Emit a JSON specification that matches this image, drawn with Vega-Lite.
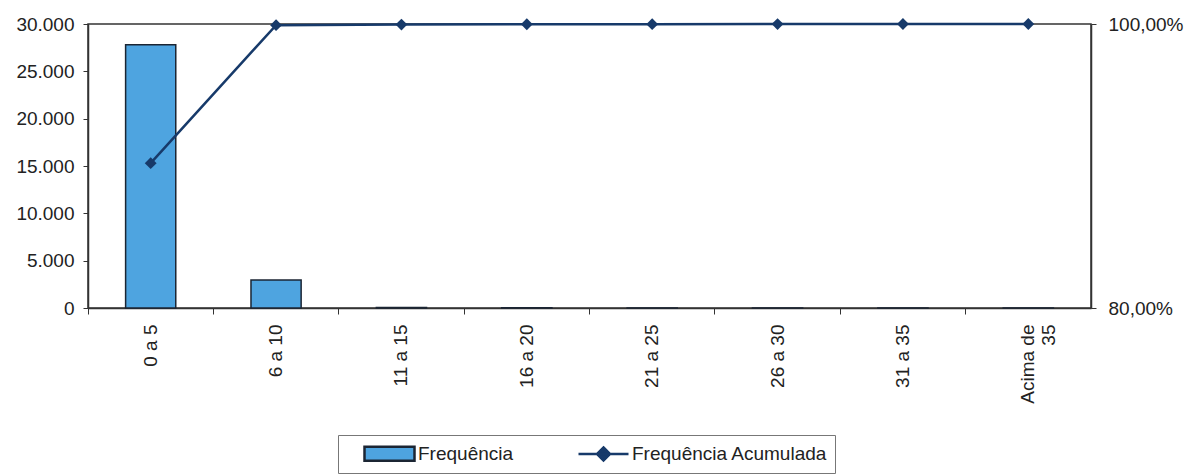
{
  "$schema": "https://vega.github.io/schema/vega-lite/v6.json",
  "autosize": "none",
  "width": 1003,
  "height": 284,
  "padding": {"left": 88, "top": 24, "right": 97, "bottom": 167},
  "background": "white",
  "config": {
    "locale": {"number": {"decimal": ",", "thousands": ".", "grouping": [3], "currency": ["R$", ""]}},
    "font": "Liberation Sans",
    "view": {"stroke": "#333", "strokeWidth": 1.5},
    "axis": {"grid": false, "domainColor": "#333", "domainWidth": 1.5, "tickColor": "#333", "tickSize": 6, "labelColor": "#222", "labelFont": "Liberation Sans", "labelFontSize": 19, "title": null},
    "legend": {"title": null, "orient": "none", "legendX": 250, "legendY": 411, "direction": "horizontal",
      "fillColor": "white", "strokeColor": "#777", "padding": 7, "columnPadding": 45,
      "labelFontSize": 19, "labelColor": "#222", "labelOffset": 17, "labelLimit": 400, "symbolSize": 400,
      "symbolOffset": 33, "symbolStrokeWidth": 2.5, "symbolOpacity": 1}
  },
  "layer": [
    {
      "data": {"name": "tabela", "values": [
        {"faixa": "0 a 5", "freq": 27800, "acum": 0.902},
        {"faixa": "6 a 10", "freq": 2950, "acum": 0.9992},
        {"faixa": "11 a 15", "freq": 60, "acum": 0.9996},
        {"faixa": "16 a 20", "freq": 25, "acum": 0.9998},
        {"faixa": "21 a 25", "freq": 10, "acum": 0.9999},
        {"faixa": "26 a 30", "freq": 8, "acum": 0.99995},
        {"faixa": "31 a 35", "freq": 5, "acum": 0.99998},
        {"faixa": "Acima de 35", "freq": 5, "acum": 1.0}
      ]},
      "encoding": {
        "x": {"field": "faixa", "type": "nominal", "sort": null,
          "scale": {"paddingInner": 0, "paddingOuter": 0},
          "axis": {"labelAngle": -90, "labelAlign": "right", "labelBaseline": "middle", "bandPosition": 0, "labelPadding": 10,
            "labelExpr": "datum.value == 'Acima de 35' ? ['Acima de', '35'] : datum.value"}}
      },
      "layer": [
        {
          "mark": {"type": "bar", "width": {"band": 0.4}, "fill": "#4ea4e0", "stroke": "#1b2533", "strokeWidth": 1.5},
          "encoding": {
            "y": {"field": "freq", "type": "quantitative", "scale": {"domain": [0, 30000], "nice": false},
              "axis": {"values": [0, 5000, 10000, 15000, 20000, 25000, 30000], "format": ",.0f", "labelPadding": 9, "tickSize": 5}}
          }
        },
        {
          "mark": {"type": "line", "color": "#173a6a", "strokeWidth": 2.5, "point": {"shape": "diamond", "size": 140, "filled": true, "color": "#173a6a"}},
          "encoding": {
            "y": {"field": "acum", "type": "quantitative", "scale": {"domain": [0.8, 1.0], "nice": false, "zero": false},
              "axis": {"orient": "right", "values": [0.8, 1.0], "format": ".2%", "labelPadding": 12, "tickSize": 5}}
          }
        }
      ],
      "resolve": {"scale": {"y": "independent"}}
    },
    {
      "data": {"values": [{"serie": "Frequência"}, {"serie": "Frequência Acumulada"}]},
      "transform": [{"filter": "false"}],
      "mark": {"type": "point", "filled": true},
      "encoding": {
        "fill": {"field": "serie", "type": "nominal",
          "scale": {"domain": ["Frequência", "Frequência Acumulada"], "range": ["#4ea4e0", "#173a6a"]}},
        "stroke": {"field": "serie", "type": "nominal",
          "scale": {"domain": ["Frequência", "Frequência Acumulada"], "range": ["#1b2533", "#173a6a"]}},
        "shape": {"field": "serie", "type": "nominal",
          "scale": {"domain": ["Frequência", "Frequência Acumulada"], "range": ["M-2.5,-0.7H2.5V0.7H-2.5Z", "M-2.5,0H2.5M0,-0.65L0.65,0L0,0.65L-0.65,0Z"]}}
      }
    }
  ],
  "resolve": {"scale": {"y": "independent"}}
}
